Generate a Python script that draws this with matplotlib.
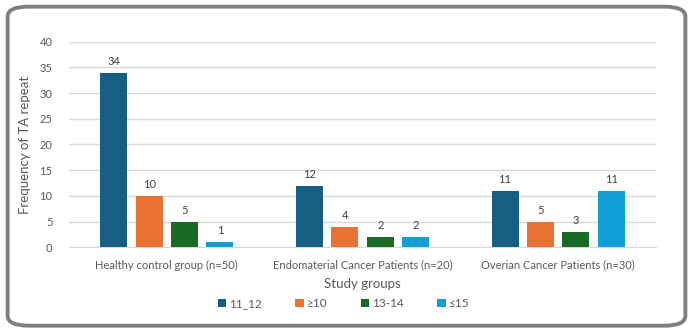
import numpy as np
import matplotlib.pyplot as plt
from matplotlib.patches import FancyBboxPatch, Patch

plt.rcParams['font.family'] = ['Lato', 'DejaVu Sans']

groups = ['Healthy control group (n=50)',
          'Endomaterial Cancer Patients (n=20)',
          'Overian Cancer Patients (n=30)']
series_names = ['11_12', '≥10', '13-14', '≤15']
series_values = [
    [34, 12, 11],
    [10, 4, 5],
    [5, 2, 3],
    [1, 2, 11],
]
colors = ['#156082', '#E97132', '#196B24', '#0F9ED5']

fig = plt.figure(figsize=(6.93, 3.33), dpi=100)
ax = fig.add_axes([0.0996, 0.2574, 0.847, 0.6174])

# rounded grey frame around the whole chart
frame = FancyBboxPatch((0.011, 0.022), 0.978, 0.958,
                       boxstyle='round,pad=0,rounding_size=0.03',
                       transform=fig.transFigure, facecolor='none',
                       edgecolor='#7F7F7F', linewidth=2.8, zorder=10)
fig.patches.append(frame)

x = np.arange(len(groups))
width = 0.138
step = 0.181
text_col = '#595959'

for i, (vals, col) in enumerate(zip(series_values, colors)):
    offs = (i - 1.5) * step
    bars = ax.bar(x + offs, vals, width, color=col, zorder=3)
    for b, v in zip(bars, vals):
        ax.text(b.get_x() + b.get_width() / 2, v + 1.1, str(v),
                ha='center', va='bottom', fontsize=8, color='#404040')

ax.set_xlim(-0.5, 2.5)
ax.set_ylim(0, 40)
ax.set_yticks(range(0, 41, 5))
ax.set_xticks(x)
ax.set_xticklabels(groups)
ax.tick_params(axis='both', length=0, labelsize=8, colors=text_col)
ax.tick_params(axis='x', pad=9)
ax.tick_params(axis='y', pad=12)
ax.grid(axis='y', color='#D9D9D9', linewidth=1, zorder=0)
for s in ['top', 'right', 'left']:
    ax.spines[s].set_visible(False)
ax.spines['bottom'].set_color('#D9D9D9')

ax.set_ylabel('Frequency of TA repeat', fontsize=9.5, color=text_col, labelpad=6)
ax.set_xlabel('Study groups', fontsize=9.5, color=text_col, labelpad=5)

handles = [Patch(facecolor=c, edgecolor='none') for c in colors]
ax.legend(handles, series_names, loc='upper center',
          bbox_to_anchor=(0.468, -0.195), ncol=4, frameon=False,
          fontsize=8.5, handlelength=0.7, handleheight=0.7,
          handletextpad=0.3, columnspacing=2.8, labelcolor=text_col)

fig.savefig('out.png', dpi=100, facecolor='white')
